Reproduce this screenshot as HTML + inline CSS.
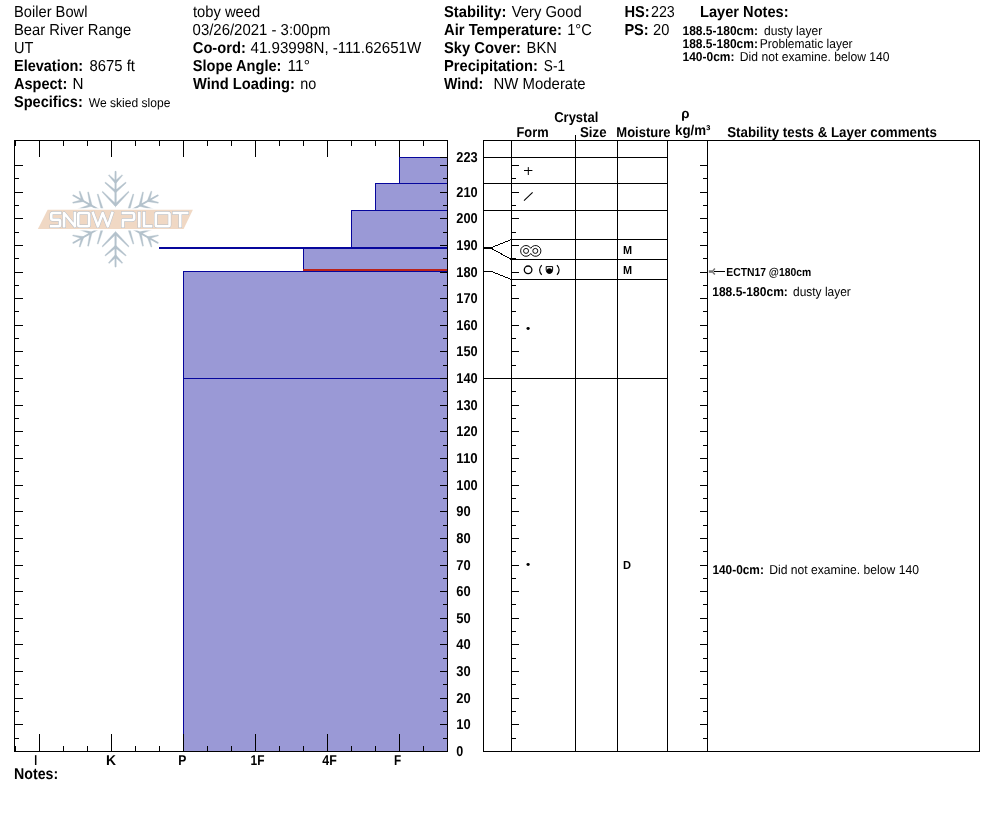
<!DOCTYPE html>
<html><head><meta charset="utf-8"><title>Snow Pit</title>
<style>html,body{margin:0;padding:0;background:#fff;}body{width:994px;height:840px;overflow:hidden;font-family:"Liberation Sans",sans-serif;}svg{display:block;position:absolute;left:0;top:0;will-change:transform;}text{font-family:"Liberation Sans",sans-serif;fill:#000;text-rendering:geometricPrecision;}.b{font-weight:bold;}</style>
</head><body>
<svg width="994" height="840" viewBox="0 0 994 840">
<rect x="0" y="0" width="994" height="840" fill="#fff"/>
<text x="14" y="17" font-size="15.85" textLength="73.4" lengthAdjust="spacingAndGlyphs">Boiler Bowl</text>
<text x="14" y="35" font-size="15.85" textLength="117.2" lengthAdjust="spacingAndGlyphs">Bear River Range</text>
<text x="14" y="53" font-size="15.85" textLength="19.4" lengthAdjust="spacingAndGlyphs">UT</text>
<text x="14" y="71" font-size="15.85" class="b" textLength="69.2" lengthAdjust="spacingAndGlyphs">Elevation:</text>
<text x="89.6" y="71" font-size="15.85" textLength="45.4" lengthAdjust="spacingAndGlyphs">8675 ft</text>
<text x="14" y="89" font-size="15.85" class="b" textLength="53.3" lengthAdjust="spacingAndGlyphs">Aspect:</text>
<text x="72.4" y="89" font-size="15.85" textLength="11.0" lengthAdjust="spacingAndGlyphs">N</text>
<text x="14" y="107" font-size="15.85" class="b" textLength="68.8" lengthAdjust="spacingAndGlyphs">Specifics:</text>
<text x="88.8" y="107" font-size="12.6" textLength="81.6" lengthAdjust="spacingAndGlyphs">We skied slope</text>
<text x="193" y="17" font-size="15.85" textLength="67.2" lengthAdjust="spacingAndGlyphs">toby weed</text>
<text x="192.6" y="35" font-size="15.85" textLength="137.8" lengthAdjust="spacingAndGlyphs">03/26/2021 - 3:00pm</text>
<text x="192.8" y="53" font-size="15.85" class="b" textLength="53.0" lengthAdjust="spacingAndGlyphs">Co-ord:</text>
<text x="250.5" y="53" font-size="15.85" textLength="170.7" lengthAdjust="spacingAndGlyphs">41.93998N, -111.62651W</text>
<text x="192.8" y="71" font-size="15.85" class="b" textLength="88.7" lengthAdjust="spacingAndGlyphs">Slope Angle:</text>
<text x="287.6" y="71" font-size="15.85" textLength="22.4" lengthAdjust="spacingAndGlyphs">11°</text>
<text x="193" y="89" font-size="15.85" class="b" textLength="101.8" lengthAdjust="spacingAndGlyphs">Wind Loading:</text>
<text x="300.2" y="89" font-size="15.85" textLength="16.0" lengthAdjust="spacingAndGlyphs">no</text>
<text x="444" y="17" font-size="15.85" class="b" textLength="62.3" lengthAdjust="spacingAndGlyphs">Stability:</text>
<text x="511.8" y="17" font-size="15.85" textLength="70.0" lengthAdjust="spacingAndGlyphs">Very Good</text>
<text x="444" y="35" font-size="15.85" class="b" textLength="118.0" lengthAdjust="spacingAndGlyphs">Air Temperature:</text>
<text x="567.2" y="35" font-size="15.85" textLength="24.6" lengthAdjust="spacingAndGlyphs">1°C</text>
<text x="444" y="53" font-size="15.85" class="b" textLength="77.0" lengthAdjust="spacingAndGlyphs">Sky Cover:</text>
<text x="526.6" y="53" font-size="15.85" textLength="30.3" lengthAdjust="spacingAndGlyphs">BKN</text>
<text x="444" y="71" font-size="15.85" class="b" textLength="93.9" lengthAdjust="spacingAndGlyphs">Precipitation:</text>
<text x="543.8" y="71" font-size="15.85" textLength="21.2" lengthAdjust="spacingAndGlyphs">S-1</text>
<text x="444" y="89" font-size="15.85" class="b" textLength="39.2" lengthAdjust="spacingAndGlyphs">Wind:</text>
<text x="493.6" y="89" font-size="15.85" textLength="92.0" lengthAdjust="spacingAndGlyphs">NW Moderate</text>
<text x="624.4" y="17" font-size="15.85" class="b" textLength="25.3" lengthAdjust="spacingAndGlyphs">HS:</text>
<text x="651" y="17" font-size="15.85" textLength="23.8" lengthAdjust="spacingAndGlyphs">223</text>
<text x="624.4" y="35" font-size="15.85" class="b" textLength="24.3" lengthAdjust="spacingAndGlyphs">PS:</text>
<text x="653" y="35" font-size="15.85" textLength="16.3" lengthAdjust="spacingAndGlyphs">20</text>
<text x="700" y="17" font-size="15.85" class="b" textLength="88.6" lengthAdjust="spacingAndGlyphs">Layer Notes:</text>
<text x="682.5" y="35" font-size="12.9" class="b" textLength="75.4" lengthAdjust="spacingAndGlyphs">188.5-180cm:</text>
<text x="764" y="35" font-size="12.9" textLength="58.2" lengthAdjust="spacingAndGlyphs">dusty layer</text>
<text x="682.5" y="48" font-size="12.9" class="b" textLength="75.4" lengthAdjust="spacingAndGlyphs">188.5-180cm:</text>
<text x="759.8" y="48" font-size="12.9" textLength="92.8" lengthAdjust="spacingAndGlyphs">Problematic layer</text>
<text x="682.5" y="61" font-size="12.9" class="b" textLength="52.0" lengthAdjust="spacingAndGlyphs">140-0cm:</text>
<text x="739.8" y="61" font-size="12.9" textLength="149.8" lengthAdjust="spacingAndGlyphs">Did not examine. below 140</text>
<rect x="399" y="157" width="48" height="26" fill="#9a99d6"/>
<rect x="375" y="183" width="72" height="27" fill="#9a99d6"/>
<rect x="351" y="210" width="96" height="37" fill="#9a99d6"/>
<rect x="303" y="247" width="144" height="24" fill="#9a99d6"/>
<rect x="183" y="271" width="264" height="107" fill="#9a99d6"/>
<rect x="183" y="378" width="264" height="373" fill="#9a99d6"/>
<rect x="399" y="157" width="49" height="1" fill="#06069c"/>
<rect x="399" y="157" width="1" height="27" fill="#06069c"/>
<rect x="375" y="183" width="73" height="1" fill="#06069c"/>
<rect x="375" y="183" width="1" height="28" fill="#06069c"/>
<rect x="351" y="210" width="97" height="1" fill="#06069c"/>
<rect x="351" y="210" width="1" height="38" fill="#06069c"/>
<rect x="303" y="247" width="145" height="1" fill="#06069c"/>
<rect x="303" y="247" width="1" height="25" fill="#06069c"/>
<rect x="183" y="271" width="265" height="1" fill="#06069c"/>
<rect x="183" y="271" width="1" height="108" fill="#06069c"/>
<rect x="183" y="378" width="265" height="1" fill="#06069c"/>
<rect x="183" y="378" width="1" height="373" fill="#06069c"/>
<rect x="399" y="183" width="49" height="1" fill="#06069c"/>
<rect x="375" y="210" width="73" height="1" fill="#06069c"/>
<rect x="351" y="247" width="97" height="1" fill="#06069c"/>
<rect x="303" y="271" width="145" height="1" fill="#06069c"/>
<rect x="183" y="378" width="265" height="1" fill="#06069c"/>
<rect x="159" y="247" width="288" height="2" fill="#06069c"/>
<rect x="303" y="269" width="144" height="2" fill="#bb2218"/>
<rect x="183" y="271" width="265" height="1" fill="#06069c"/>
<rect x="14" y="140" width="434" height="1" fill="#000"/>
<rect x="14" y="751" width="434" height="1" fill="#000"/>
<rect x="14" y="140" width="1" height="612" fill="#000"/>
<rect x="447" y="140" width="1" height="612" fill="#000"/>
<rect x="15" y="140" width="1" height="6" fill="#000"/>
<rect x="15" y="746" width="1" height="6" fill="#000"/>
<rect x="39" y="140" width="1" height="17" fill="#000"/>
<rect x="39" y="734" width="1" height="18" fill="#000"/>
<rect x="63" y="140" width="1" height="6" fill="#000"/>
<rect x="63" y="746" width="1" height="6" fill="#000"/>
<rect x="87" y="140" width="1" height="6" fill="#000"/>
<rect x="87" y="746" width="1" height="6" fill="#000"/>
<rect x="111" y="140" width="1" height="17" fill="#000"/>
<rect x="111" y="734" width="1" height="18" fill="#000"/>
<rect x="135" y="140" width="1" height="6" fill="#000"/>
<rect x="135" y="746" width="1" height="6" fill="#000"/>
<rect x="159" y="140" width="1" height="6" fill="#000"/>
<rect x="159" y="746" width="1" height="6" fill="#000"/>
<rect x="183" y="140" width="1" height="17" fill="#000"/>
<rect x="183" y="734" width="1" height="18" fill="#000"/>
<rect x="207" y="140" width="1" height="6" fill="#000"/>
<rect x="207" y="746" width="1" height="6" fill="#000"/>
<rect x="231" y="140" width="1" height="6" fill="#000"/>
<rect x="231" y="746" width="1" height="6" fill="#000"/>
<rect x="255" y="140" width="1" height="17" fill="#000"/>
<rect x="255" y="734" width="1" height="18" fill="#000"/>
<rect x="279" y="140" width="1" height="6" fill="#000"/>
<rect x="279" y="746" width="1" height="6" fill="#000"/>
<rect x="303" y="140" width="1" height="6" fill="#000"/>
<rect x="303" y="746" width="1" height="6" fill="#000"/>
<rect x="327" y="140" width="1" height="17" fill="#000"/>
<rect x="327" y="734" width="1" height="18" fill="#000"/>
<rect x="351" y="140" width="1" height="6" fill="#000"/>
<rect x="351" y="746" width="1" height="6" fill="#000"/>
<rect x="375" y="140" width="1" height="6" fill="#000"/>
<rect x="375" y="746" width="1" height="6" fill="#000"/>
<rect x="399" y="140" width="1" height="17" fill="#000"/>
<rect x="399" y="734" width="1" height="18" fill="#000"/>
<rect x="423" y="140" width="1" height="6" fill="#000"/>
<rect x="423" y="746" width="1" height="6" fill="#000"/>
<rect x="14" y="738" width="5" height="1" fill="#000"/>
<rect x="443" y="738" width="5" height="1" fill="#000"/>
<rect x="14" y="724" width="9" height="1" fill="#000"/>
<rect x="440" y="724" width="8" height="1" fill="#000"/>
<rect x="14" y="711" width="5" height="1" fill="#000"/>
<rect x="443" y="711" width="5" height="1" fill="#000"/>
<rect x="14" y="698" width="9" height="1" fill="#000"/>
<rect x="440" y="698" width="8" height="1" fill="#000"/>
<rect x="14" y="684" width="5" height="1" fill="#000"/>
<rect x="443" y="684" width="5" height="1" fill="#000"/>
<rect x="14" y="671" width="9" height="1" fill="#000"/>
<rect x="440" y="671" width="8" height="1" fill="#000"/>
<rect x="14" y="658" width="5" height="1" fill="#000"/>
<rect x="443" y="658" width="5" height="1" fill="#000"/>
<rect x="14" y="644" width="9" height="1" fill="#000"/>
<rect x="440" y="644" width="8" height="1" fill="#000"/>
<rect x="14" y="631" width="5" height="1" fill="#000"/>
<rect x="443" y="631" width="5" height="1" fill="#000"/>
<rect x="14" y="618" width="9" height="1" fill="#000"/>
<rect x="440" y="618" width="8" height="1" fill="#000"/>
<rect x="14" y="604" width="5" height="1" fill="#000"/>
<rect x="443" y="604" width="5" height="1" fill="#000"/>
<rect x="14" y="591" width="9" height="1" fill="#000"/>
<rect x="440" y="591" width="8" height="1" fill="#000"/>
<rect x="14" y="578" width="5" height="1" fill="#000"/>
<rect x="443" y="578" width="5" height="1" fill="#000"/>
<rect x="14" y="565" width="9" height="1" fill="#000"/>
<rect x="440" y="565" width="8" height="1" fill="#000"/>
<rect x="14" y="551" width="5" height="1" fill="#000"/>
<rect x="443" y="551" width="5" height="1" fill="#000"/>
<rect x="14" y="538" width="9" height="1" fill="#000"/>
<rect x="440" y="538" width="8" height="1" fill="#000"/>
<rect x="14" y="525" width="5" height="1" fill="#000"/>
<rect x="443" y="525" width="5" height="1" fill="#000"/>
<rect x="14" y="511" width="9" height="1" fill="#000"/>
<rect x="440" y="511" width="8" height="1" fill="#000"/>
<rect x="14" y="498" width="5" height="1" fill="#000"/>
<rect x="443" y="498" width="5" height="1" fill="#000"/>
<rect x="14" y="485" width="9" height="1" fill="#000"/>
<rect x="440" y="485" width="8" height="1" fill="#000"/>
<rect x="14" y="471" width="5" height="1" fill="#000"/>
<rect x="443" y="471" width="5" height="1" fill="#000"/>
<rect x="14" y="458" width="9" height="1" fill="#000"/>
<rect x="440" y="458" width="8" height="1" fill="#000"/>
<rect x="14" y="445" width="5" height="1" fill="#000"/>
<rect x="443" y="445" width="5" height="1" fill="#000"/>
<rect x="14" y="431" width="9" height="1" fill="#000"/>
<rect x="440" y="431" width="8" height="1" fill="#000"/>
<rect x="14" y="418" width="5" height="1" fill="#000"/>
<rect x="443" y="418" width="5" height="1" fill="#000"/>
<rect x="14" y="405" width="9" height="1" fill="#000"/>
<rect x="440" y="405" width="8" height="1" fill="#000"/>
<rect x="14" y="391" width="5" height="1" fill="#000"/>
<rect x="443" y="391" width="5" height="1" fill="#000"/>
<rect x="14" y="378" width="9" height="1" fill="#000"/>
<rect x="440" y="378" width="8" height="1" fill="#000"/>
<rect x="14" y="365" width="5" height="1" fill="#000"/>
<rect x="443" y="365" width="5" height="1" fill="#000"/>
<rect x="14" y="351" width="9" height="1" fill="#000"/>
<rect x="440" y="351" width="8" height="1" fill="#000"/>
<rect x="14" y="338" width="5" height="1" fill="#000"/>
<rect x="443" y="338" width="5" height="1" fill="#000"/>
<rect x="14" y="325" width="9" height="1" fill="#000"/>
<rect x="440" y="325" width="8" height="1" fill="#000"/>
<rect x="14" y="311" width="5" height="1" fill="#000"/>
<rect x="443" y="311" width="5" height="1" fill="#000"/>
<rect x="14" y="298" width="9" height="1" fill="#000"/>
<rect x="440" y="298" width="8" height="1" fill="#000"/>
<rect x="14" y="285" width="5" height="1" fill="#000"/>
<rect x="443" y="285" width="5" height="1" fill="#000"/>
<rect x="14" y="272" width="9" height="1" fill="#000"/>
<rect x="440" y="272" width="8" height="1" fill="#000"/>
<rect x="14" y="258" width="5" height="1" fill="#000"/>
<rect x="443" y="258" width="5" height="1" fill="#000"/>
<rect x="14" y="245" width="9" height="1" fill="#000"/>
<rect x="440" y="245" width="8" height="1" fill="#000"/>
<rect x="14" y="232" width="5" height="1" fill="#000"/>
<rect x="443" y="232" width="5" height="1" fill="#000"/>
<rect x="14" y="218" width="9" height="1" fill="#000"/>
<rect x="440" y="218" width="8" height="1" fill="#000"/>
<rect x="14" y="205" width="5" height="1" fill="#000"/>
<rect x="443" y="205" width="5" height="1" fill="#000"/>
<rect x="14" y="192" width="9" height="1" fill="#000"/>
<rect x="440" y="192" width="8" height="1" fill="#000"/>
<rect x="14" y="178" width="5" height="1" fill="#000"/>
<rect x="443" y="178" width="5" height="1" fill="#000"/>
<rect x="14" y="165" width="9" height="1" fill="#000"/>
<rect x="440" y="165" width="8" height="1" fill="#000"/>
<rect x="440" y="157" width="8" height="1" fill="#000"/>
<text x="456.3" y="756" font-size="14.3" class="b" textLength="7.0" lengthAdjust="spacingAndGlyphs">0</text>
<text x="456.3" y="729" font-size="14.3" class="b" textLength="14.4" lengthAdjust="spacingAndGlyphs">10</text>
<text x="456.3" y="703" font-size="14.3" class="b" textLength="14.4" lengthAdjust="spacingAndGlyphs">20</text>
<text x="456.3" y="676" font-size="14.3" class="b" textLength="14.4" lengthAdjust="spacingAndGlyphs">30</text>
<text x="456.3" y="649" font-size="14.3" class="b" textLength="14.4" lengthAdjust="spacingAndGlyphs">40</text>
<text x="456.3" y="623" font-size="14.3" class="b" textLength="14.4" lengthAdjust="spacingAndGlyphs">50</text>
<text x="456.3" y="596" font-size="14.3" class="b" textLength="14.4" lengthAdjust="spacingAndGlyphs">60</text>
<text x="456.3" y="570" font-size="14.3" class="b" textLength="14.4" lengthAdjust="spacingAndGlyphs">70</text>
<text x="456.3" y="543" font-size="14.3" class="b" textLength="14.4" lengthAdjust="spacingAndGlyphs">80</text>
<text x="456.3" y="516" font-size="14.3" class="b" textLength="14.4" lengthAdjust="spacingAndGlyphs">90</text>
<text x="456.3" y="490" font-size="14.3" class="b" textLength="21.4" lengthAdjust="spacingAndGlyphs">100</text>
<text x="456.3" y="463" font-size="14.3" class="b" textLength="21.4" lengthAdjust="spacingAndGlyphs">110</text>
<text x="456.3" y="436" font-size="14.3" class="b" textLength="21.4" lengthAdjust="spacingAndGlyphs">120</text>
<text x="456.3" y="410" font-size="14.3" class="b" textLength="21.4" lengthAdjust="spacingAndGlyphs">130</text>
<text x="456.3" y="383" font-size="14.3" class="b" textLength="21.4" lengthAdjust="spacingAndGlyphs">140</text>
<text x="456.3" y="356" font-size="14.3" class="b" textLength="21.4" lengthAdjust="spacingAndGlyphs">150</text>
<text x="456.3" y="330" font-size="14.3" class="b" textLength="21.4" lengthAdjust="spacingAndGlyphs">160</text>
<text x="456.3" y="303" font-size="14.3" class="b" textLength="21.4" lengthAdjust="spacingAndGlyphs">170</text>
<text x="456.3" y="277" font-size="14.3" class="b" textLength="21.4" lengthAdjust="spacingAndGlyphs">180</text>
<text x="456.3" y="250" font-size="14.3" class="b" textLength="21.4" lengthAdjust="spacingAndGlyphs">190</text>
<text x="456.3" y="223" font-size="14.3" class="b" textLength="21.4" lengthAdjust="spacingAndGlyphs">200</text>
<text x="456.3" y="197" font-size="14.3" class="b" textLength="21.4" lengthAdjust="spacingAndGlyphs">210</text>
<text x="456.3" y="162" font-size="14.3" class="b" textLength="21.4" lengthAdjust="spacingAndGlyphs">223</text>
<text x="34.3" y="765" font-size="14.3" class="b" textLength="2.9" lengthAdjust="spacingAndGlyphs">I</text>
<text x="106" y="765" font-size="14.3" class="b" textLength="10.0" lengthAdjust="spacingAndGlyphs">K</text>
<text x="178.2" y="765" font-size="14.3" class="b" textLength="8.1" lengthAdjust="spacingAndGlyphs">P</text>
<text x="250.6" y="765" font-size="14.3" class="b" textLength="13.9" lengthAdjust="spacingAndGlyphs">1F</text>
<text x="322.3" y="765" font-size="14.3" class="b" textLength="14.5" lengthAdjust="spacingAndGlyphs">4F</text>
<text x="394" y="765" font-size="14.3" class="b" textLength="7.2" lengthAdjust="spacingAndGlyphs">F</text>
<text x="14" y="779" font-size="15.6" class="b" textLength="44.2" lengthAdjust="spacingAndGlyphs">Notes:</text>
<rect x="483" y="140" width="497" height="1" fill="#000"/>
<rect x="483" y="751" width="497" height="1" fill="#000"/>
<rect x="483" y="140" width="1" height="612" fill="#000"/>
<rect x="511" y="140" width="1" height="612" fill="#000"/>
<rect x="575" y="135" width="1" height="617" fill="#000"/>
<rect x="617" y="140" width="1" height="612" fill="#000"/>
<rect x="667" y="140" width="1" height="612" fill="#000"/>
<rect x="707" y="140" width="1" height="612" fill="#000"/>
<rect x="979" y="140" width="1" height="612" fill="#000"/>
<rect x="483" y="157" width="185" height="1" fill="#000"/>
<rect x="483" y="183" width="185" height="1" fill="#000"/>
<rect x="483" y="210" width="185" height="1" fill="#000"/>
<rect x="483" y="378" width="185" height="1" fill="#000"/>
<rect x="511" y="239" width="157" height="1" fill="#000"/>
<rect x="511" y="259" width="157" height="1" fill="#000"/>
<rect x="511" y="279" width="157" height="1" fill="#000"/>
<rect x="511" y="738" width="5" height="1" fill="#000"/>
<rect x="703" y="738" width="5" height="1" fill="#000"/>
<rect x="511" y="724" width="8" height="1" fill="#000"/>
<rect x="700" y="724" width="8" height="1" fill="#000"/>
<rect x="511" y="711" width="5" height="1" fill="#000"/>
<rect x="703" y="711" width="5" height="1" fill="#000"/>
<rect x="511" y="698" width="8" height="1" fill="#000"/>
<rect x="700" y="698" width="8" height="1" fill="#000"/>
<rect x="511" y="684" width="5" height="1" fill="#000"/>
<rect x="703" y="684" width="5" height="1" fill="#000"/>
<rect x="511" y="671" width="8" height="1" fill="#000"/>
<rect x="700" y="671" width="8" height="1" fill="#000"/>
<rect x="511" y="658" width="5" height="1" fill="#000"/>
<rect x="703" y="658" width="5" height="1" fill="#000"/>
<rect x="511" y="644" width="8" height="1" fill="#000"/>
<rect x="700" y="644" width="8" height="1" fill="#000"/>
<rect x="511" y="631" width="5" height="1" fill="#000"/>
<rect x="703" y="631" width="5" height="1" fill="#000"/>
<rect x="511" y="618" width="8" height="1" fill="#000"/>
<rect x="700" y="618" width="8" height="1" fill="#000"/>
<rect x="511" y="604" width="5" height="1" fill="#000"/>
<rect x="703" y="604" width="5" height="1" fill="#000"/>
<rect x="511" y="591" width="8" height="1" fill="#000"/>
<rect x="700" y="591" width="8" height="1" fill="#000"/>
<rect x="511" y="578" width="5" height="1" fill="#000"/>
<rect x="703" y="578" width="5" height="1" fill="#000"/>
<rect x="511" y="565" width="8" height="1" fill="#000"/>
<rect x="700" y="565" width="8" height="1" fill="#000"/>
<rect x="511" y="551" width="5" height="1" fill="#000"/>
<rect x="703" y="551" width="5" height="1" fill="#000"/>
<rect x="511" y="538" width="8" height="1" fill="#000"/>
<rect x="700" y="538" width="8" height="1" fill="#000"/>
<rect x="511" y="525" width="5" height="1" fill="#000"/>
<rect x="703" y="525" width="5" height="1" fill="#000"/>
<rect x="511" y="511" width="8" height="1" fill="#000"/>
<rect x="700" y="511" width="8" height="1" fill="#000"/>
<rect x="511" y="498" width="5" height="1" fill="#000"/>
<rect x="703" y="498" width="5" height="1" fill="#000"/>
<rect x="511" y="485" width="8" height="1" fill="#000"/>
<rect x="700" y="485" width="8" height="1" fill="#000"/>
<rect x="511" y="471" width="5" height="1" fill="#000"/>
<rect x="703" y="471" width="5" height="1" fill="#000"/>
<rect x="511" y="458" width="8" height="1" fill="#000"/>
<rect x="700" y="458" width="8" height="1" fill="#000"/>
<rect x="511" y="445" width="5" height="1" fill="#000"/>
<rect x="703" y="445" width="5" height="1" fill="#000"/>
<rect x="511" y="431" width="8" height="1" fill="#000"/>
<rect x="700" y="431" width="8" height="1" fill="#000"/>
<rect x="511" y="418" width="5" height="1" fill="#000"/>
<rect x="703" y="418" width="5" height="1" fill="#000"/>
<rect x="511" y="405" width="8" height="1" fill="#000"/>
<rect x="700" y="405" width="8" height="1" fill="#000"/>
<rect x="511" y="391" width="5" height="1" fill="#000"/>
<rect x="703" y="391" width="5" height="1" fill="#000"/>
<rect x="511" y="378" width="8" height="1" fill="#000"/>
<rect x="700" y="378" width="8" height="1" fill="#000"/>
<rect x="511" y="365" width="5" height="1" fill="#000"/>
<rect x="703" y="365" width="5" height="1" fill="#000"/>
<rect x="511" y="351" width="8" height="1" fill="#000"/>
<rect x="700" y="351" width="8" height="1" fill="#000"/>
<rect x="511" y="338" width="5" height="1" fill="#000"/>
<rect x="703" y="338" width="5" height="1" fill="#000"/>
<rect x="511" y="325" width="8" height="1" fill="#000"/>
<rect x="700" y="325" width="8" height="1" fill="#000"/>
<rect x="511" y="311" width="5" height="1" fill="#000"/>
<rect x="703" y="311" width="5" height="1" fill="#000"/>
<rect x="511" y="298" width="8" height="1" fill="#000"/>
<rect x="700" y="298" width="8" height="1" fill="#000"/>
<rect x="511" y="285" width="5" height="1" fill="#000"/>
<rect x="703" y="285" width="5" height="1" fill="#000"/>
<rect x="511" y="272" width="8" height="1" fill="#000"/>
<rect x="700" y="272" width="8" height="1" fill="#000"/>
<rect x="511" y="258" width="5" height="1" fill="#000"/>
<rect x="703" y="258" width="5" height="1" fill="#000"/>
<rect x="511" y="245" width="8" height="1" fill="#000"/>
<rect x="700" y="245" width="8" height="1" fill="#000"/>
<rect x="511" y="232" width="5" height="1" fill="#000"/>
<rect x="703" y="232" width="5" height="1" fill="#000"/>
<rect x="511" y="218" width="8" height="1" fill="#000"/>
<rect x="700" y="218" width="8" height="1" fill="#000"/>
<rect x="511" y="205" width="5" height="1" fill="#000"/>
<rect x="703" y="205" width="5" height="1" fill="#000"/>
<rect x="511" y="192" width="8" height="1" fill="#000"/>
<rect x="700" y="192" width="8" height="1" fill="#000"/>
<rect x="511" y="178" width="5" height="1" fill="#000"/>
<rect x="703" y="178" width="5" height="1" fill="#000"/>
<rect x="511" y="165" width="8" height="1" fill="#000"/>
<rect x="700" y="165" width="8" height="1" fill="#000"/>
<g stroke="#000" stroke-width="1" fill="none" shape-rendering="crispEdges">
<path d="M483.5 247.5H491.5L511.5 239.5"/>
<path d="M483.5 248.5H491.5L511.5 259.5"/>
<path d="M483.5 271.5H491.5L511.5 279.5"/>
</g>
<text x="554.2" y="122" font-size="14.3" class="b" textLength="44.1" lengthAdjust="spacingAndGlyphs">Crystal</text>
<text x="516.5" y="137" font-size="14.3" class="b" textLength="32.1" lengthAdjust="spacingAndGlyphs">Form</text>
<text x="580" y="137" font-size="14.3" class="b" textLength="26.5" lengthAdjust="spacingAndGlyphs">Size</text>
<text x="616.3" y="137" font-size="14.3" class="b" textLength="54.2" lengthAdjust="spacingAndGlyphs">Moisture</text>
<text x="675" y="135" font-size="14.3" class="b" textLength="35.5" lengthAdjust="spacingAndGlyphs">kg/m³</text>
<text x="681.2" y="118" font-size="13.3" class="b">ρ</text>
<text x="727.2" y="137" font-size="14.3" class="b" textLength="209.8" lengthAdjust="spacingAndGlyphs">Stability tests &amp; Layer comments</text>
<g stroke="#000" stroke-width="1" fill="none" stroke-linecap="butt">
<path d="M524 170.5H532.4M528.3 167.1V175"/>
<path d="M524 200.6L532.6 192.3" stroke-width="1.1"/>
<path d="M530.75 248.33A5.4 5.4 0 1 0 530.75 253.47A5.4 5.4 0 1 0 530.75 248.33Z" stroke-width="0.95"/>
<circle cx="526.05" cy="250.9" r="2.5" stroke-width="0.95"/><circle cx="535.3" cy="250.9" r="2.5" stroke-width="0.95"/>
<circle cx="528.1" cy="269.8" r="3.8" stroke-width="1.3"/>
<path d="M541.7 265.1Q537.5 270 541.7 274.9" stroke-width="1.15"/>
<path d="M557 265.1Q561.2 270 557 274.9" stroke-width="1.15"/>
<path d="M546.2 266.6H552.6V270.1A3.2 3.2 0 0 1 546.2 270.1Z" stroke-width="1" fill="#fff"/>
</g>
<circle cx="549.4" cy="270.95" r="2.7" fill="#000"/>
<ellipse cx="528.1" cy="328.5" rx="1.6" ry="1.4" fill="#000"/>
<ellipse cx="528.1" cy="564.5" rx="1.6" ry="1.4" fill="#000"/>
<text x="622.9" y="254" font-size="11.6" class="b" textLength="9.1" lengthAdjust="spacingAndGlyphs">M</text>
<text x="622.9" y="274" font-size="11.6" class="b" textLength="9.1" lengthAdjust="spacingAndGlyphs">M</text>
<text x="622.9" y="569" font-size="11.6" class="b" textLength="8.0" lengthAdjust="spacingAndGlyphs">D</text>
<rect x="714" y="271" width="11" height="1" fill="#000"/>
<rect x="708.8" y="270.3" width="4.7" height="2.5" fill="#777"/>
<path d="M713 270.7L714.9 268.5M713 272.4L714.9 274.6" stroke="#777" stroke-width="1.5" fill="none"/>
<text x="726.3" y="276" font-size="11.6" class="b" textLength="84.9" lengthAdjust="spacingAndGlyphs">ECTN17 @180cm</text>
<text x="712.2" y="296" font-size="12.9" class="b" textLength="75.7" lengthAdjust="spacingAndGlyphs">188.5-180cm:</text>
<text x="793" y="296" font-size="12.9" textLength="57.8" lengthAdjust="spacingAndGlyphs">dusty layer</text>
<text x="712.4" y="574" font-size="12.9" class="b" textLength="51.5" lengthAdjust="spacingAndGlyphs">140-0cm:</text>
<text x="769.2" y="574" font-size="12.9" textLength="149.7" lengthAdjust="spacingAndGlyphs">Did not examine. below 140</text>
<g id="logo">
<g transform="translate(115.55 219.1) scale(1.03 1) rotate(0)" stroke="#b4c2cc" fill="none" stroke-linecap="round">
<path d="M0 -11.3L1.0 -15.5L0.85 -47.6L0 -48.3L-0.85 -47.6L-1.0 -15.5Z" fill="#b4c2cc" stroke="none"/>
<path d="M0.77 -37.79L-6.30 -44.46L-7.00 -43.74L-0.77 -36.21Z" fill="#b4c2cc" stroke="#b4c2cc" stroke-width="0.3" stroke-linejoin="round"/>
<path d="M0.77 -36.21L7.00 -43.74L6.30 -44.46L-0.77 -37.79Z" fill="#b4c2cc" stroke="#b4c2cc" stroke-width="0.3" stroke-linejoin="round"/>
<path d="M0 -35.4L1.5 -38.7L0 -40.0L-1.5 -38.7Z" fill="#b4c2cc" stroke="none"/>
<path d="M0.70 -28.45L-9.78 -36.98L-10.42 -36.22L-0.70 -26.75Z" fill="#b4c2cc" stroke="#b4c2cc" stroke-width="0.3" stroke-linejoin="round"/>
<path d="M0.70 -26.75L10.42 -36.22L9.78 -36.98L-0.70 -28.45Z" fill="#b4c2cc" stroke="#b4c2cc" stroke-width="0.3" stroke-linejoin="round"/>
<path d="M0 -26.0L1.5 -29.3L0 -30.599999999999998L-1.5 -29.3Z" fill="#b4c2cc" stroke="none"/>
<path d="M0.78 -14.78L-12.50 -27.80L-13.20 -27.10L-0.78 -13.22Z" fill="#b4c2cc" stroke="#b4c2cc" stroke-width="0.3" stroke-linejoin="round"/>
<path d="M0.78 -13.22L13.20 -27.10L12.50 -27.80L-0.78 -14.78Z" fill="#b4c2cc" stroke="#b4c2cc" stroke-width="0.3" stroke-linejoin="round"/>
<path d="M0 -12.399999999999999L1.5 -15.7L0 -17.0L-1.5 -15.7Z" fill="#b4c2cc" stroke="none"/>
</g>
<g transform="translate(115.55 219.1) scale(1.03 1) rotate(60)" stroke="#b4c2cc" fill="none" stroke-linecap="round">
<path d="M0 -11.3L1.0 -15.5L0.85 -47.6L0 -48.3L-0.85 -47.6L-1.0 -15.5Z" fill="#b4c2cc" stroke="none"/>
<path d="M0.77 -37.79L-6.30 -44.46L-7.00 -43.74L-0.77 -36.21Z" fill="#b4c2cc" stroke="#b4c2cc" stroke-width="0.3" stroke-linejoin="round"/>
<path d="M0.77 -36.21L7.00 -43.74L6.30 -44.46L-0.77 -37.79Z" fill="#b4c2cc" stroke="#b4c2cc" stroke-width="0.3" stroke-linejoin="round"/>
<path d="M0 -35.4L1.5 -38.7L0 -40.0L-1.5 -38.7Z" fill="#b4c2cc" stroke="none"/>
<path d="M0.70 -28.45L-9.78 -36.98L-10.42 -36.22L-0.70 -26.75Z" fill="#b4c2cc" stroke="#b4c2cc" stroke-width="0.3" stroke-linejoin="round"/>
<path d="M0.70 -26.75L10.42 -36.22L9.78 -36.98L-0.70 -28.45Z" fill="#b4c2cc" stroke="#b4c2cc" stroke-width="0.3" stroke-linejoin="round"/>
<path d="M0 -26.0L1.5 -29.3L0 -30.599999999999998L-1.5 -29.3Z" fill="#b4c2cc" stroke="none"/>
<path d="M0.78 -14.78L-12.50 -27.80L-13.20 -27.10L-0.78 -13.22Z" fill="#b4c2cc" stroke="#b4c2cc" stroke-width="0.3" stroke-linejoin="round"/>
<path d="M0.78 -13.22L13.20 -27.10L12.50 -27.80L-0.78 -14.78Z" fill="#b4c2cc" stroke="#b4c2cc" stroke-width="0.3" stroke-linejoin="round"/>
<path d="M0 -12.399999999999999L1.5 -15.7L0 -17.0L-1.5 -15.7Z" fill="#b4c2cc" stroke="none"/>
</g>
<g transform="translate(115.55 219.1) scale(1.03 1) rotate(120)" stroke="#b4c2cc" fill="none" stroke-linecap="round">
<path d="M0 -11.3L1.0 -15.5L0.85 -47.6L0 -48.3L-0.85 -47.6L-1.0 -15.5Z" fill="#b4c2cc" stroke="none"/>
<path d="M0.77 -37.79L-6.30 -44.46L-7.00 -43.74L-0.77 -36.21Z" fill="#b4c2cc" stroke="#b4c2cc" stroke-width="0.3" stroke-linejoin="round"/>
<path d="M0.77 -36.21L7.00 -43.74L6.30 -44.46L-0.77 -37.79Z" fill="#b4c2cc" stroke="#b4c2cc" stroke-width="0.3" stroke-linejoin="round"/>
<path d="M0 -35.4L1.5 -38.7L0 -40.0L-1.5 -38.7Z" fill="#b4c2cc" stroke="none"/>
<path d="M0.70 -28.45L-9.78 -36.98L-10.42 -36.22L-0.70 -26.75Z" fill="#b4c2cc" stroke="#b4c2cc" stroke-width="0.3" stroke-linejoin="round"/>
<path d="M0.70 -26.75L10.42 -36.22L9.78 -36.98L-0.70 -28.45Z" fill="#b4c2cc" stroke="#b4c2cc" stroke-width="0.3" stroke-linejoin="round"/>
<path d="M0 -26.0L1.5 -29.3L0 -30.599999999999998L-1.5 -29.3Z" fill="#b4c2cc" stroke="none"/>
<path d="M0.78 -14.78L-12.50 -27.80L-13.20 -27.10L-0.78 -13.22Z" fill="#b4c2cc" stroke="#b4c2cc" stroke-width="0.3" stroke-linejoin="round"/>
<path d="M0.78 -13.22L13.20 -27.10L12.50 -27.80L-0.78 -14.78Z" fill="#b4c2cc" stroke="#b4c2cc" stroke-width="0.3" stroke-linejoin="round"/>
<path d="M0 -12.399999999999999L1.5 -15.7L0 -17.0L-1.5 -15.7Z" fill="#b4c2cc" stroke="none"/>
</g>
<g transform="translate(115.55 219.1) scale(1.03 1) rotate(180)" stroke="#b4c2cc" fill="none" stroke-linecap="round">
<path d="M0 -11.3L1.0 -15.5L0.85 -47.6L0 -48.3L-0.85 -47.6L-1.0 -15.5Z" fill="#b4c2cc" stroke="none"/>
<path d="M0.77 -37.79L-6.30 -44.46L-7.00 -43.74L-0.77 -36.21Z" fill="#b4c2cc" stroke="#b4c2cc" stroke-width="0.3" stroke-linejoin="round"/>
<path d="M0.77 -36.21L7.00 -43.74L6.30 -44.46L-0.77 -37.79Z" fill="#b4c2cc" stroke="#b4c2cc" stroke-width="0.3" stroke-linejoin="round"/>
<path d="M0 -35.4L1.5 -38.7L0 -40.0L-1.5 -38.7Z" fill="#b4c2cc" stroke="none"/>
<path d="M0.70 -28.45L-9.78 -36.98L-10.42 -36.22L-0.70 -26.75Z" fill="#b4c2cc" stroke="#b4c2cc" stroke-width="0.3" stroke-linejoin="round"/>
<path d="M0.70 -26.75L10.42 -36.22L9.78 -36.98L-0.70 -28.45Z" fill="#b4c2cc" stroke="#b4c2cc" stroke-width="0.3" stroke-linejoin="round"/>
<path d="M0 -26.0L1.5 -29.3L0 -30.599999999999998L-1.5 -29.3Z" fill="#b4c2cc" stroke="none"/>
<path d="M0.78 -14.78L-12.50 -27.80L-13.20 -27.10L-0.78 -13.22Z" fill="#b4c2cc" stroke="#b4c2cc" stroke-width="0.3" stroke-linejoin="round"/>
<path d="M0.78 -13.22L13.20 -27.10L12.50 -27.80L-0.78 -14.78Z" fill="#b4c2cc" stroke="#b4c2cc" stroke-width="0.3" stroke-linejoin="round"/>
<path d="M0 -12.399999999999999L1.5 -15.7L0 -17.0L-1.5 -15.7Z" fill="#b4c2cc" stroke="none"/>
</g>
<g transform="translate(115.55 219.1) scale(1.03 1) rotate(240)" stroke="#b4c2cc" fill="none" stroke-linecap="round">
<path d="M0 -11.3L1.0 -15.5L0.85 -47.6L0 -48.3L-0.85 -47.6L-1.0 -15.5Z" fill="#b4c2cc" stroke="none"/>
<path d="M0.77 -37.79L-6.30 -44.46L-7.00 -43.74L-0.77 -36.21Z" fill="#b4c2cc" stroke="#b4c2cc" stroke-width="0.3" stroke-linejoin="round"/>
<path d="M0.77 -36.21L7.00 -43.74L6.30 -44.46L-0.77 -37.79Z" fill="#b4c2cc" stroke="#b4c2cc" stroke-width="0.3" stroke-linejoin="round"/>
<path d="M0 -35.4L1.5 -38.7L0 -40.0L-1.5 -38.7Z" fill="#b4c2cc" stroke="none"/>
<path d="M0.70 -28.45L-9.78 -36.98L-10.42 -36.22L-0.70 -26.75Z" fill="#b4c2cc" stroke="#b4c2cc" stroke-width="0.3" stroke-linejoin="round"/>
<path d="M0.70 -26.75L10.42 -36.22L9.78 -36.98L-0.70 -28.45Z" fill="#b4c2cc" stroke="#b4c2cc" stroke-width="0.3" stroke-linejoin="round"/>
<path d="M0 -26.0L1.5 -29.3L0 -30.599999999999998L-1.5 -29.3Z" fill="#b4c2cc" stroke="none"/>
<path d="M0.78 -14.78L-12.50 -27.80L-13.20 -27.10L-0.78 -13.22Z" fill="#b4c2cc" stroke="#b4c2cc" stroke-width="0.3" stroke-linejoin="round"/>
<path d="M0.78 -13.22L13.20 -27.10L12.50 -27.80L-0.78 -14.78Z" fill="#b4c2cc" stroke="#b4c2cc" stroke-width="0.3" stroke-linejoin="round"/>
<path d="M0 -12.399999999999999L1.5 -15.7L0 -17.0L-1.5 -15.7Z" fill="#b4c2cc" stroke="none"/>
</g>
<g transform="translate(115.55 219.1) scale(1.03 1) rotate(300)" stroke="#b4c2cc" fill="none" stroke-linecap="round">
<path d="M0 -11.3L1.0 -15.5L0.85 -47.6L0 -48.3L-0.85 -47.6L-1.0 -15.5Z" fill="#b4c2cc" stroke="none"/>
<path d="M0.77 -37.79L-6.30 -44.46L-7.00 -43.74L-0.77 -36.21Z" fill="#b4c2cc" stroke="#b4c2cc" stroke-width="0.3" stroke-linejoin="round"/>
<path d="M0.77 -36.21L7.00 -43.74L6.30 -44.46L-0.77 -37.79Z" fill="#b4c2cc" stroke="#b4c2cc" stroke-width="0.3" stroke-linejoin="round"/>
<path d="M0 -35.4L1.5 -38.7L0 -40.0L-1.5 -38.7Z" fill="#b4c2cc" stroke="none"/>
<path d="M0.70 -28.45L-9.78 -36.98L-10.42 -36.22L-0.70 -26.75Z" fill="#b4c2cc" stroke="#b4c2cc" stroke-width="0.3" stroke-linejoin="round"/>
<path d="M0.70 -26.75L10.42 -36.22L9.78 -36.98L-0.70 -28.45Z" fill="#b4c2cc" stroke="#b4c2cc" stroke-width="0.3" stroke-linejoin="round"/>
<path d="M0 -26.0L1.5 -29.3L0 -30.599999999999998L-1.5 -29.3Z" fill="#b4c2cc" stroke="none"/>
<path d="M0.78 -14.78L-12.50 -27.80L-13.20 -27.10L-0.78 -13.22Z" fill="#b4c2cc" stroke="#b4c2cc" stroke-width="0.3" stroke-linejoin="round"/>
<path d="M0.78 -13.22L13.20 -27.10L12.50 -27.80L-0.78 -14.78Z" fill="#b4c2cc" stroke="#b4c2cc" stroke-width="0.3" stroke-linejoin="round"/>
<path d="M0 -12.399999999999999L1.5 -15.7L0 -17.0L-1.5 -15.7Z" fill="#b4c2cc" stroke="none"/>
</g>
<path d="M46.6 208.2H194.6L184 230.6H36.2Z" fill="#fff"/>
<path d="M47.6 209.8H192.9L183.6 229.1H37.9Z" fill="#f0d8c4"/>
<g stroke="#b4bdc7" stroke-width="3.5" fill="none" stroke-linejoin="round" stroke-linecap="square">
<path d="M60 213.0H52.5Q51.3 213.0 51.3 214.2V218.5Q51.3 219.7 52.5 219.7H58.8Q60 219.7 60 220.89999999999998V225.10000000000002Q60 226.3 58.8 226.3H51.3"/>
<path d="M64.1 226.3V213.0L74.9 226.3V213.0"/>
<path d="M79.5 213.0H87.89999999999999Q89.1 213.0 89.1 214.2V225.10000000000002Q89.1 226.3 87.89999999999999 226.3H79.5Q78.3 226.3 78.3 225.10000000000002V214.2Q78.3 213.0 79.5 213.0Z"/>
<path d="M93 213.0L97.9 226.3L102.7 213.0L107.8 226.3L112.3 213.0"/>
<path d="M122.9 213.0H132.2Q134.2 213.0 134.2 215.0V218Q134.2 220 132.2 220H122.9V226.3"/>
<path d="M139.3 213.0V226.3"/>
<path d="M144.05 213.0V226.3H151.1"/>
<path d="M157.0 213.0H168.35000000000002Q169.55 213.0 169.55 214.2V225.10000000000002Q169.55 226.3 168.35000000000002 226.3H157.0Q155.8 226.3 155.8 225.10000000000002V214.2Q155.8 213.0 157.0 213.0Z"/>
<path d="M173.9 213.0H187.2M180.25 213.0V226.3"/>
</g>
<g stroke="#ffffff" stroke-width="2.6" fill="none" stroke-linejoin="round" stroke-linecap="square">
<path d="M60 213.0H52.5Q51.3 213.0 51.3 214.2V218.5Q51.3 219.7 52.5 219.7H58.8Q60 219.7 60 220.89999999999998V225.10000000000002Q60 226.3 58.8 226.3H51.3"/>
<path d="M64.1 226.3V213.0L74.9 226.3V213.0"/>
<path d="M79.5 213.0H87.89999999999999Q89.1 213.0 89.1 214.2V225.10000000000002Q89.1 226.3 87.89999999999999 226.3H79.5Q78.3 226.3 78.3 225.10000000000002V214.2Q78.3 213.0 79.5 213.0Z"/>
<path d="M93 213.0L97.9 226.3L102.7 213.0L107.8 226.3L112.3 213.0"/>
<path d="M122.9 213.0H132.2Q134.2 213.0 134.2 215.0V218Q134.2 220 132.2 220H122.9V226.3"/>
<path d="M139.3 213.0V226.3"/>
<path d="M144.05 213.0V226.3H151.1"/>
<path d="M157.0 213.0H168.35000000000002Q169.55 213.0 169.55 214.2V225.10000000000002Q169.55 226.3 168.35000000000002 226.3H157.0Q155.8 226.3 155.8 225.10000000000002V214.2Q155.8 213.0 157.0 213.0Z"/>
<path d="M173.9 213.0H187.2M180.25 213.0V226.3"/>
</g>
</g>
</svg>
</body></html>
